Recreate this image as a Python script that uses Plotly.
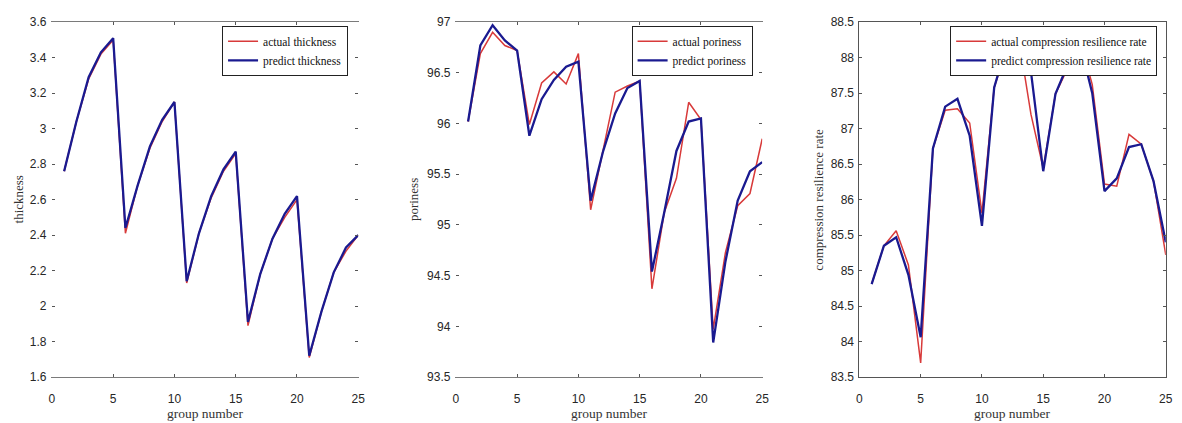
import plotly.graph_objects as go

group = list(range(1, 26))

thick_actual = [2.76, 3.04, 3.28, 3.42, 3.50, 2.41, 2.68, 2.89, 3.04, 3.15,
                2.13, 2.41, 2.61, 2.76, 2.86, 1.89, 2.18, 2.38, 2.50, 2.60,
                1.71, 1.97, 2.19, 2.31, 2.40]
thick_pred = [2.76, 3.04, 3.29, 3.43, 3.51, 2.44, 2.68, 2.90, 3.05, 3.15,
              2.14, 2.41, 2.62, 2.77, 2.87, 1.91, 2.18, 2.38, 2.52, 2.62,
              1.72, 1.97, 2.19, 2.33, 2.40]

por_actual = [96.02, 96.69, 96.90, 96.77, 96.72, 95.99, 96.40, 96.51, 96.39, 96.69,
              95.15, 95.72, 96.31, 96.37, 96.42, 94.37, 95.12, 95.46, 96.21, 96.04,
              93.97, 94.73, 95.19, 95.31, 95.85]
por_pred = [96.02, 96.77, 96.97, 96.82, 96.72, 95.88, 96.24, 96.43, 96.56, 96.61,
            95.24, 95.72, 96.10, 96.35, 96.42, 94.54, 95.12, 95.73, 96.02, 96.05,
            93.84, 94.64, 95.24, 95.53, 95.62]

crr_actual = [84.81, 85.35, 85.56, 85.08, 83.70, 86.72, 87.26, 87.28, 87.08, 85.81,
              87.58, 88.12, 88.28, 87.20, 86.44, 87.49, 87.85, 88.26, 87.62, 86.22,
              86.19, 86.92, 86.78, 86.26, 85.22]
crr_pred = [84.81, 85.35, 85.47, 84.94, 84.06, 86.72, 87.31, 87.42, 86.90, 85.63,
            87.58, 88.17, 88.40, 87.80, 86.40, 87.49, 87.90, 88.20, 87.50, 86.12,
            86.30, 86.74, 86.78, 86.26, 85.40]

panels = [
    dict(actual=thick_actual, pred=thick_pred, yrange=[1.6, 3.6], dtick=0.2,
         ytitle="thickness", lab_a="actual thickness", lab_p="predict thickness", box=False),
    dict(actual=por_actual, pred=por_pred, yrange=[93.5, 97], dtick=0.5,
         ytitle="poriness", lab_a="actual poriness", lab_p="predict poriness", box=False),
    dict(actual=crr_actual, pred=crr_pred, yrange=[83.5, 88.5], dtick=0.5,
         ytitle="compression resilience rate", lab_a="actual compression resilience rate",
         lab_p="predict compression resilience rate", box=True),
]

W, H = 1182, 423
x_left = [49.3, 456.7, 863.7]
pw = 309.0
y_top, y_bot = 15.7, 382.7
ytitle_x = [16, 414, 823]
legend_right = [348, 756, 1164]
legend_top = 19.5

RED = "#d83a3a"
BLUE = "#1a1a90"
TICKFONT = dict(family="Liberation Sans", size=12, color="#262626")
SERIF = "Liberation Serif"

fig = go.Figure()
annotations = []
for i, p in enumerate(panels):
    n = "" if i == 0 else str(i + 1)
    leg = "legend" if i == 0 else f"legend{i+1}"
    fig.add_trace(go.Scatter(x=group, y=p["actual"], mode="lines", name=p["lab_a"],
                             line=dict(color=RED, width=1.5),
                             xaxis="x" + n, yaxis="y" + n, legend=leg))
    fig.add_trace(go.Scatter(x=group, y=p["pred"], mode="lines", name=p["lab_p"],
                             line=dict(color=BLUE, width=2.3),
                             xaxis="x" + n, yaxis="y" + n, legend=leg))
    xd = [x_left[i] / W, (x_left[i] + pw) / W]
    yd = [1 - y_bot / H, 1 - y_top / H]
    fig.layout["xaxis" + n] = dict(
        domain=xd, range=[0, 25], dtick=5, tick0=0, anchor="y" + n,
        showline=True, linecolor="#555" if p["box"] else "#7a7a7a", linewidth=1,
        mirror="allticks",
        ticks="inside", ticklen=3, tickcolor="#555", tickfont=TICKFONT,
        showgrid=False, zeroline=False, ticklabelstandoff=11,
    )
    fig.layout["yaxis" + n] = dict(
        domain=yd, range=p["yrange"], dtick=p["dtick"], tick0=p["yrange"][0], anchor="x" + n,
        showline=True, linecolor="#555" if p["box"] else "rgba(0,0,0,0)", linewidth=1,
        mirror="allticks" if p["box"] else "ticks",
        ticks="inside", ticklen=3, tickcolor="#555", tickfont=TICKFONT,
        showgrid=False, zeroline=False, ticklabelstandoff=2,
    )
    fig.layout[leg] = dict(
        x=legend_right[i] / W, y=1 - legend_top / H, xanchor="right", yanchor="top",
        xref="paper", yref="paper",
        bgcolor="white", bordercolor="#222", borderwidth=1,
        font=dict(family=SERIF, size=11.5, color="#111"),
        tracegroupgap=0, itemwidth=30,
    )
    annotations.append(dict(text="group number", x=(x_left[i] + pw / 2) / W, y=0,
                            xref="paper", yref="paper", showarrow=False,
                            xanchor="center", yanchor="bottom", borderpad=0, yshift=-6,
                            font=dict(family=SERIF, size=13.5, color="#333")))
    annotations.append(dict(text=p["ytitle"], x=ytitle_x[i] / W, y=1 - ((y_top + y_bot) / 2) / H,
                            xref="paper", yref="paper", showarrow=False, textangle=-90,
                            xanchor="center", yanchor="middle",
                            font=dict(family=SERIF, size=13, color="#333")))

fig.update_layout(
    width=W, height=H, margin=dict(l=0, r=0, t=0, b=0),
    paper_bgcolor="white", plot_bgcolor="white",
    annotations=annotations, showlegend=True,
)
fig.write_html("out.html")
